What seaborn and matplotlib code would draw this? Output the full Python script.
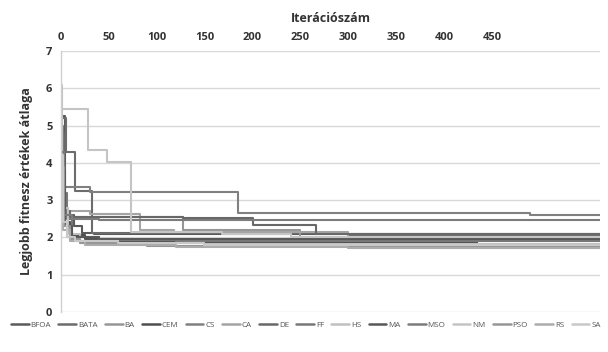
import matplotlib
matplotlib.use("Agg")
import matplotlib.pyplot as plt
import seaborn as sns
import pandas as pd

# ---- data (step curves: iteration where value changes, value from there on) ----
N_ITER = 563
algorithms = ["BFOA", "BATA", "BA", "CEM", "CS", "CA", "DE", "FF",
              "HS", "MA", "MSO", "NM", "PSO", "RS", "SA"]

BFOA_it = [0, 4, 14, 22, 35];            BFOA_v = [5.25, 2.6, 2.3, 2.12, 2.08]
BATA_it = [0, 5, 15, 33, 300];           BATA_v = [5.2, 4.3, 3.25, 2.12, 2.06]
BA_it = [0, 2, 8, 128, 250];             BA_v = [4.0, 2.6, 2.55, 2.2, 1.98]
CEM_it = [0, 3, 10, 25, 60, 434];        CEM_v = [3.6, 2.4, 2.05, 1.95, 1.88, 1.78]
CS_it = [0, 2, 30, 185, 490];            CS_v = [4.1, 3.35, 3.22, 2.66, 2.6]
CA_it = [0, 3, 30, 83, 118, 300];        CA_v = [3.0, 2.7, 2.63, 2.2, 2.15, 2.0]
DE_it = [0, 3, 10, 128, 201, 266];       DE_v = [4.8, 2.7, 2.55, 2.53, 2.33, 2.1]
FF_it = [0, 2, 6, 12, 40, 120];          FF_v = [5.0, 3.2, 2.5, 2.0, 1.92, 1.9]
HS_it = [0, 1, 3, 8, 20, 60, 150];       HS_v = [6.1, 4.0, 2.8, 2.1, 1.9, 1.85, 1.82]
MA_it = [0, 4, 12, 40];                  MA_v = [3.8, 2.3, 2.0, 1.96]
MSO_it = [0, 3, 12, 40];                 MSO_v = [4.3, 2.6, 2.48, 2.46]
NM_it = [0, 28, 48, 73, 168, 240];       NM_v = [5.45, 4.35, 4.02, 2.15, 2.1, 2.02]
PSO_it = [0, 3, 10, 20, 90, 300];        PSO_v = [3.9, 2.3, 1.95, 1.85, 1.78, 1.75]
RS_it = [0, 2, 10, 25, 120, 300];        RS_v = [2.6, 2.2, 1.9, 1.8, 1.75, 1.72]
SA_it = [0, 2, 6, 15, 60, 150];          SA_v = [4.2, 2.4, 2.0, 1.9, 1.85, 1.8]

x_ticks = [0, 50, 100, 150, 200, 250, 300, 350, 400, 450]
y_ticks = [0, 1, 2, 3, 4, 5, 6, 7]
x_label = "Iterációszám"
y_label = "Legjobb fitnesz értékek átlaga"

colors = {"BFOA": "#5a5a5a", "BATA": "#6c6c6c", "BA": "#969696", "CEM": "#4e4e4e",
          "CS": "#808080", "CA": "#a4a4a4", "DE": "#686868", "FF": "#787878",
          "HS": "#c0c0c0", "MA": "#585858", "MSO": "#7c7c7c", "NM": "#c4c4c4",
          "PSO": "#969696", "RS": "#acacac", "SA": "#c8c8c8"}

series = {"BFOA": (BFOA_it, BFOA_v), "BATA": (BATA_it, BATA_v), "BA": (BA_it, BA_v),
          "CEM": (CEM_it, CEM_v), "CS": (CS_it, CS_v), "CA": (CA_it, CA_v),
          "DE": (DE_it, DE_v), "FF": (FF_it, FF_v), "HS": (HS_it, HS_v),
          "MA": (MA_it, MA_v), "MSO": (MSO_it, MSO_v), "NM": (NM_it, NM_v),
          "PSO": (PSO_it, PSO_v), "RS": (RS_it, RS_v), "SA": (SA_it, SA_v)}

rows = []
for name in algorithms:
    its, vals = series[name]
    for i, v in zip(its + [N_ITER], vals + [vals[-1]]):
        rows.append({"iter": i, "value": v, "alg": name})
df = pd.DataFrame(rows)

# ---- plot ----
sns.set_theme(style="white")
plt.rcParams["font.family"] = ["Open Sans", "DejaVu Sans"]

fig = plt.figure(figsize=(6.08, 3.52), dpi=100)
ax = fig.add_axes([0.100, 0.114, 0.887, 0.741])

sns.lineplot(data=df, x="iter", y="value", hue="alg", hue_order=algorithms,
             palette=colors, drawstyle="steps-post", estimator=None,
             linewidth=1.5, ax=ax, legend=True)

ax.set_xlim(0, N_ITER)
ax.set_ylim(0, 7)
ax.set_yticks(y_ticks)
ax.set_xticks(x_ticks)
ax.xaxis.tick_top()
ax.xaxis.set_label_position("top")
ax.set_xlabel(x_label, fontsize=9, fontweight="bold", color="#333333", labelpad=7)
ax.set_ylabel(y_label, fontsize=9, fontweight="bold", color="#333333", labelpad=9)
ax.tick_params(axis="both", length=0, labelsize=8, colors="#333333", pad=6)
for lab in ax.get_xticklabels() + ax.get_yticklabels():
    lab.set_fontweight("bold")

ax.grid(axis="y", color="#d9d9d9", linewidth=1.0)
ax.set_axisbelow(True)
for s in ["top", "right", "bottom"]:
    ax.spines[s].set_visible(False)
ax.spines["left"].set_color("#d0d0d0")
ax.spines["left"].set_linewidth(1.0)

sns.move_legend(ax, "center", bbox_to_anchor=(0.503, 0.077), bbox_transform=fig.transFigure,
                ncol=15, frameon=False, title=None, fontsize=5.8,
                handlelength=2.2, handletextpad=0.25, columnspacing=0.9)
for t in ax.get_legend().get_texts():
    t.set_color("#555555")
for h in ax.get_legend().get_lines():
    h.set_linewidth(1.8)

fig.savefig("out.png", dpi=100)
